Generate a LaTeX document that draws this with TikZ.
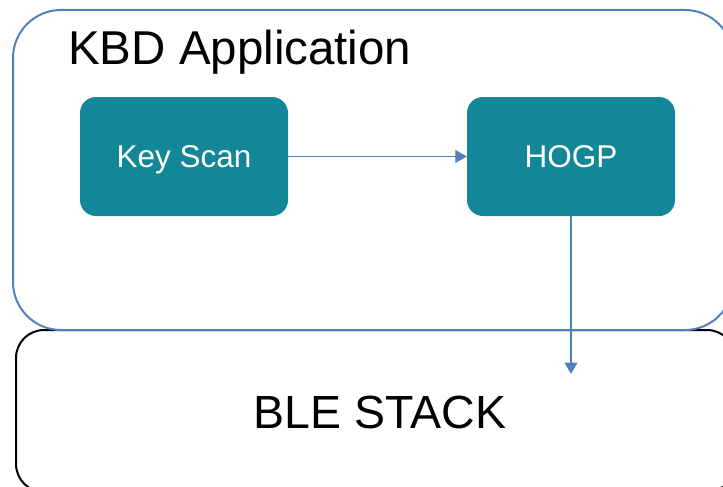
\documentclass[tikz,border=0pt]{standalone}
\usepackage{fontspec}
\setmainfont{Liberation Sans}
\usetikzlibrary{arrows.meta}
\definecolor{obl}{HTML}{4F81BD}
\definecolor{teal1}{HTML}{138797}
\tikzset{
  appbox/.style={draw=obl, line width=2pt, rounded corners=48pt},
  stackbox/.style={draw=black, line width=2pt, rounded corners=28pt},
  blockbox/.style={fill=teal1, rounded corners=16pt, minimum width=208pt, minimum height=119pt, text=white, font=\fontsize{31.5}{36}\selectfont, inner sep=0pt, text height=22pt, text depth=0pt},
  conn/.style={draw=obl, line width=1.1pt, -{Triangle[width=13pt,length=11.5pt]}},
}
\begin{document}
\begin{tikzpicture}[x=1pt,y=-1pt]
\useasboundingbox (0,0) rectangle (723,487);
\begin{scope}
\clip (0,0) rectangle (723,487);
\draw[stackbox] (16,330) rectangle (735,492);
\draw[appbox] (13,10) rectangle (733,330);
\end{scope}
\node[anchor=base west, inner sep=0pt, font=\fontsize{47.5}{54}\selectfont] (title) at (68,65) {KBD Application};
\node[anchor=base, inner sep=0pt, font=\fontsize{46.5}{54}\selectfont] (ble) at (380,428) {BLE STACK};
\node[blockbox] (key) at (184,156.5) {Key Scan};
\node[blockbox] (hogp) at (571,156.5) {HOGP};
\coordinate (tip) at (571,374);
\draw[conn] (key.east) -- (hogp.west);
\draw[conn] (hogp.south) -- (tip);
\end{tikzpicture}
\end{document}
